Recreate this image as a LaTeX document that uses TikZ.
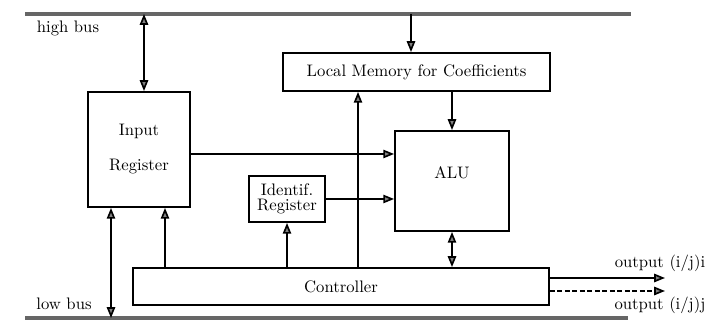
\documentclass[tikz,border=0pt]{standalone}
\usepackage{tikz}
\usetikzlibrary{positioning,arrows.meta,calc}

\begin{document}
\begin{tikzpicture}[
  x=0.6pt,y=-0.6pt,
  >={Triangle[length=6.5pt,width=5pt,fill=gray]},
  blk/.style={rectangle,draw,line width=1.1pt,inner sep=2pt,align=center},
  bus/.style={line width=2.4pt,draw=black!60},
  sig/.style={line width=1pt},
  lbl/.style={font=\normalsize}
]
\useasboundingbox (0,0) rectangle (711,320);
% buses
\coordinate (hbL) at (25,14);
\coordinate (hbR) at (631,14);
\coordinate (lbL) at (25,318);
\coordinate (lbR) at (628,318);
\draw[bus] (hbL) -- (hbR);
\draw[bus] (lbL) -- (lbR);
\node[lbl] (hbus) at (68,28) {high bus};
\node[lbl] (lbus) at (64,304) {low bus};
% blocks
\node[blk,minimum width=61.2pt,minimum height=69pt] (inreg) at (139,149.5) {Input\\[9pt]Register};
\node[blk,minimum width=160.2pt,minimum height=22.8pt] (lmem) at (416.5,72) {Local Memory for Coefficients};
\node[blk,minimum width=68.4pt,minimum height=60pt] (alu) at (452,181) {ALU\\[-2pt]};
\node[blk,minimum width=45.6pt,minimum height=27.6pt] (ident) at (287,199) {Identif.\\[-3pt]Register};
\node[blk,minimum width=249.6pt,minimum height=22.2pt] (ctrl) at (341,286.5) {Controller};
% taps on buses and controller
\coordinate (hb1) at (144,14);
\coordinate (hb2) at (411,14);
\coordinate (lb1) at (111,318);
\coordinate (c1) at (165,0);
\coordinate (c2) at (358,0);
\coordinate (r1) at (0,154);
\coordinate (oi) at (665,278);
\coordinate (oj) at (665,291);
% connections
\draw[sig,<->] (hb1) -- (hb1 |- inreg.north);
\draw[sig,->] (hb2) -- (hb2 |- lmem.north);
\draw[sig,->] (lmem.south -| alu.north) -- (alu.north);
\draw[sig,->] (inreg.east |- r1) -- (alu.west |- r1);
\draw[sig,->] (ident.east) -- (ident.east -| alu.west);
\draw[sig,->] (ctrl.north -| c2) -- (lmem.south -| c2);
\draw[sig,->] (ctrl.north -| ident.south) -- (ident.south);
\draw[sig,->] (ctrl.north -| c1) -- (inreg.south -| c1);
\draw[sig,<->] (lb1) -- (lb1 |- inreg.south);
\draw[sig,<->] (alu.south) -- (alu.south |- ctrl.north);
% outputs
\draw[sig,->] (ctrl.east |- oi) -- (oi);
\draw[sig,->,dash pattern=on 3pt off 1.5pt] (ctrl.east |- oj) -- (oj);
\node[lbl] (outi) at (660,263) {output (i/j)i};
\node[lbl] (outj) at (660,305) {output (i/j)j};
\end{tikzpicture}
\end{document}
